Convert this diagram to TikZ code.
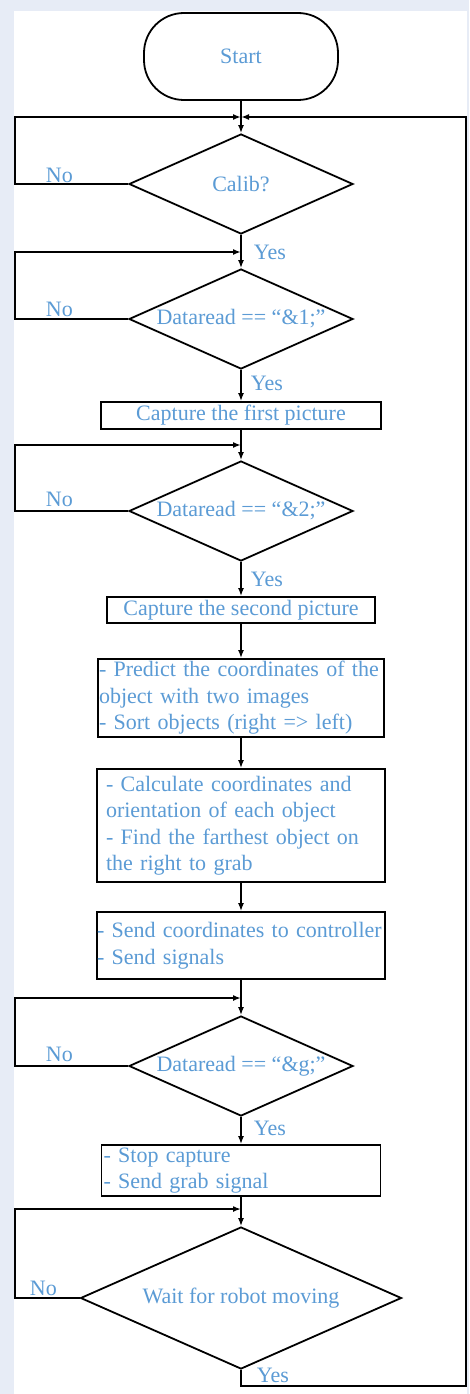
\documentclass[tikz,border=0pt]{standalone}
\usepackage{fontspec}
\setmainfont{Liberation Serif}
\usepackage{xcolor}
\usepackage{tikz}
\usetikzlibrary{shapes.geometric, arrows.meta}
\definecolor{flowblue}{HTML}{5B9BD5}
\definecolor{pagebg}{HTML}{E7ECF6}
\newcommand{\labelcolor}{flowblue}

\begin{document}
\begin{tikzpicture}[x=1pt, y=-1pt, line width=1.8pt, >={Latex[length=8pt,width=6pt]}, font=\fontsize{22}{26.5}\selectfont]
	\tikzstyle{startc}=[rectangle, rounded corners=40pt, draw=black, minimum width=194pt, minimum height=87pt, text=\labelcolor]
	\tikzstyle{decis}=[diamond, draw=black, inner sep=0pt, aspect=2.24, minimum width=224pt, minimum height=100pt, text=\labelcolor]
	\tikzstyle{procb}=[rectangle, draw=black, align=left, inner ysep=0pt, text=\labelcolor]
	\tikzstyle{lab}=[inner sep=0pt, anchor=base west, text=\labelcolor]

	\fill[pagebg] (0,0) rectangle (469,1394);
	\fill[white] (14,11) rectangle (467,1394);
	\useasboundingbox (0,0) rectangle (469,1394);

	\node (start) at (241,56.5) [startc]{Start};
	\node (calib) at (241,184) [decis]{Calib?};
	\node (dr1) at (241,319) [decis]{Dataread == “\&1;”};
	\node (cap1) at (241,415.5) [procb, minimum width=280pt, minimum height=27pt]{Capture the first picture};
	\node (dr2) at (241,511) [decis]{Dataread == “\&2;”};
	\node (cap2) at (241,610) [procb, minimum width=268pt, minimum height=26pt]{Capture the second picture};
	\node (pred) at (241,698) [procb, text width=284pt, inner xsep=1pt, minimum height=78pt]{- Predict the coordinates of the\\object with two images\\- Sort objects (right => left)};
	\node (calc) at (241,825.5) [procb, text width=270pt, inner xsep=9pt, minimum height=113pt]{- Calculate coordinates and\\orientation of each object\\- Find the farthest object on\\the right to grab};
	\node (send) at (241,945.5) [procb, text width=288pt, inner xsep=0pt, minimum height=67pt]{- Send coordinates to controller\\- Send signals};
	\node (dr3) at (241,1066) [decis]{Dataread == “\&g;”};
	\node (stop) at (241,1170.5) [procb, text width=275pt, inner xsep=2pt, minimum height=51pt]{- Stop capture\\- Send grab signal};
	\node (wait) at (241,1298) [decis, aspect=2.26, minimum width=321pt, minimum height=142pt]{Wait for robot moving};

	% merge points and loop corners
	\coordinate (m1) at (241,117);
	\coordinate (m2) at (241,252);
	\coordinate (m3) at (241,445);
	\coordinate (m4) at (241,998);
	\coordinate (m5) at (241,1209);
	\coordinate (l1) at (15,117);
	\coordinate (l2) at (15,252);
	\coordinate (l3) at (15,445);
	\coordinate (l4) at (15,998);
	\coordinate (l5) at (15,1209);
	\coordinate (b1) at (241,1386);
	\coordinate (b2) at (466,1386);
	\coordinate (b3) at (466,117);

	\draw[->] (start.south) -- (calib.north);
	\draw[->] (calib.south) -- (dr1.north);
	\draw[->] (dr1.south) -- (cap1.north);
	\draw[->] (cap1.south) -- (dr2.north);
	\draw[->] (dr2.south) -- (cap2.north);
	\draw[->] (cap2.south) -- (pred.north);
	\draw[->] (pred.south) -- (calc.north);
	\draw[->] (calc.south) -- (send.north);
	\draw[->] (send.south) -- (dr3.north);
	\draw[->] (dr3.south) -- (stop.north);
	\draw[->] (stop.south) -- (wait.north);

	\draw[->] (calib.west) -| (l1) -- (m1);
	\draw[->] (dr1.west) -| (l2) -- (m2);
	\draw[->] (dr2.west) -| (l3) -- (m3);
	\draw[->] (dr3.west) -| (l4) -- (m4);
	\draw[->] (wait.west) -| (l5) -- (m5);
	\draw[->] (wait.south) -- (b1) -- (b2) -- (b3) -- (m1);

	\node (no1) at (45,182) [lab]{No};
	\node (no2) at (45,316) [lab]{No};
	\node (no3) at (45,506) [lab]{No};
	\node (no4) at (45,1061) [lab]{No};
	\node (no5) at (29,1295) [lab]{No};
	\node (yes1) at (253,259) [lab]{Yes};
	\node (yes2) at (250,390) [lab]{Yes};
	\node (yes3) at (250,586) [lab]{Yes};
	\node (yes4) at (253,1135) [lab]{Yes};
	\node (yes5) at (256,1382) [lab]{Yes};
\end{tikzpicture}
\end{document}
